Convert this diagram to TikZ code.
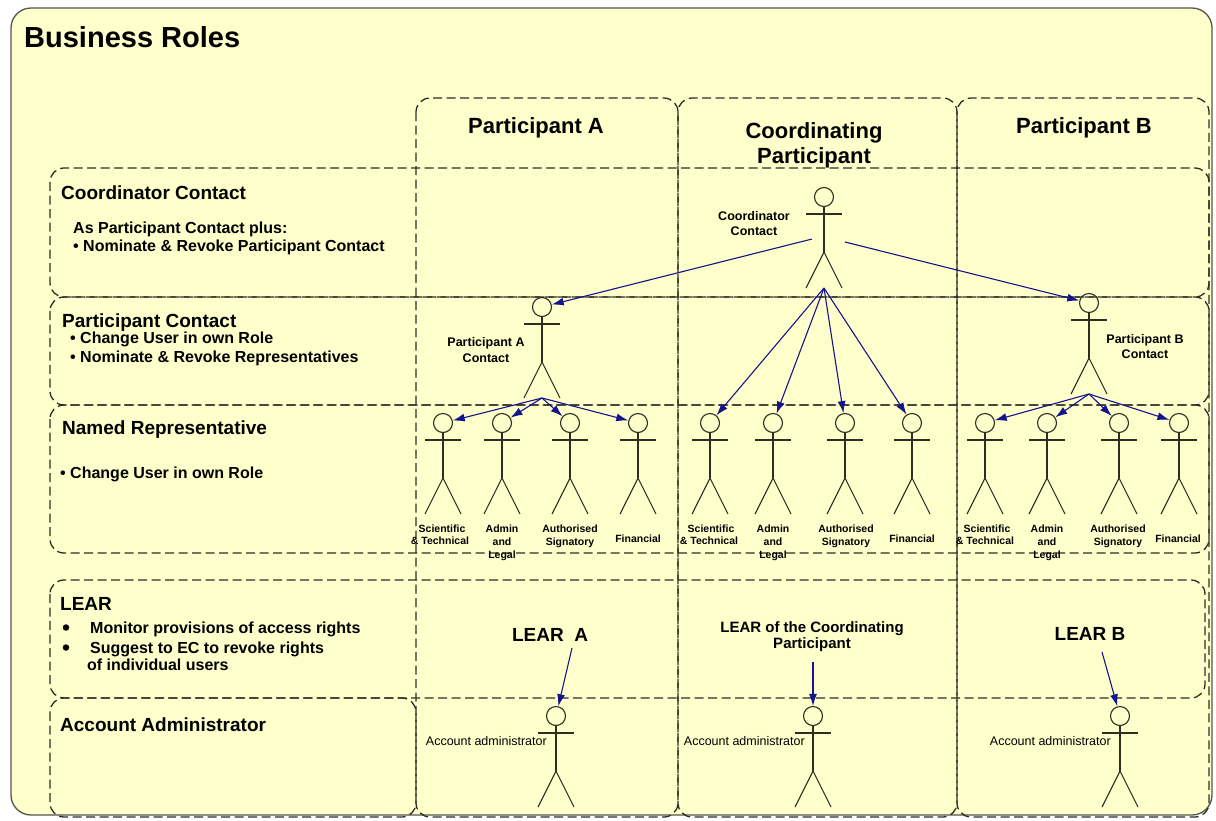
\documentclass[tikz,border=0pt]{standalone}
\usepackage{fontspec}
\setmainfont{Liberation Sans}
\usetikzlibrary{arrows.meta}
\definecolor{bg}{RGB}{255,255,204}
\definecolor{dashc}{RGB}{45,45,40}
\definecolor{figc}{RGB}{45,45,35}
\definecolor{arrc}{RGB}{20,20,140}
\definecolor{outc}{RGB}{85,85,75}
\newcommand{\fsz}[1]{\fontsize{#1}{#1}\selectfont}
\newcommand{\actor}[3]{%
  \node[head] (#1) at (#2,#3) {};
  \draw[fig] (#1.south) -- (#2,{#3+55}) coordinate (#1-hip);
  \draw[fig] ({#2-18},{#3+17}) -- ({#2+18},{#3+17});
  \draw[fig] ({#2-18},{#3+91}) -- (#1-hip) -- ({#2+18},{#3+91});
  \coordinate (#1-feet) at (#2,{#3+91});
}
\tikzset{
  lane/.style={draw=dashc, line width=1.3pt, dash pattern=on 9pt off 4.5pt, rounded corners=14pt},
  fig/.style={draw=figc, line width=1.1pt},
  head/.style={circle, draw=figc, line width=1.1pt, minimum size=19pt, inner sep=0pt},
  link/.style={draw=arrc, line width=1.1pt, -{Latex[length=12pt,width=8pt]}},
  dot/.style={circle, fill=black, minimum size=6.5pt, inner sep=0pt},
  ttl/.style={font=\fsz{29}\bfseries, anchor=base west, inner sep=0pt},
  rowt/.style={font=\fsz{19}\bfseries, anchor=base west, inner sep=0pt},
  txt/.style={font=\fsz{16}\bfseries, anchor=base west, inner sep=0pt},
  colt/.style={font=\fsz{22}\bfseries, anchor=base, inner sep=0pt},
  flab/.style={font=\fsz{12.5}\bfseries, anchor=base, inner sep=0pt},
  rlab/.style={font=\fsz{10.5}\bfseries, anchor=base, inner sep=0pt},
  alab/.style={font=\fsz{12.5}, anchor=base east, inner sep=0pt},
  lear/.style={font=\fsz{19}\bfseries, anchor=base, inner sep=0pt},
  learc/.style={font=\fsz{15}\bfseries, anchor=base, inner sep=0pt},
}
\begin{document}
\begin{tikzpicture}[x=1pt,y=-1pt]
\fill[white] (0,0) rectangle (1216,820);
\useasboundingbox (0,0) rectangle (1216,820);
% outer panel
\draw[draw=outc, line width=1.3pt, fill=bg, rounded corners=20pt] (11,8) rectangle (1212,815);
\node[ttl] (title) at (24,47) {Business Roles};
% columns
\draw[lane] (416,98) rectangle (678,817);
\draw[lane] (678,98) rectangle (957,817);
\draw[lane] (957,98) rectangle (1209,817);
% rows
\draw[lane] (50,168) rectangle (1209,297);
\draw[lane] (50,297) rectangle (1209,405);
\draw[lane] (50,405) rectangle (1209,553);
\draw[lane] (50,580) rectangle (1205,698);
\draw[lane] (50,698) rectangle (416,817);
% column titles
\node[colt] (colA) at (536,133) {Participant A};
\node[colt] (colC1) at (814,138) {Coordinating};
\node[colt] (colC2) at (814,163) {Participant};
\node[colt] (colB) at (1084,133) {Participant B};
% row texts
\node[rowt] (r1) at (61,199) {Coordinator Contact};
\node[txt] (r1a) at (73,233) {As Participant Contact plus:};
\node[txt] (r1b) at (73,251) {• Nominate \& Revoke Participant Contact};
\node[rowt] (r2) at (62,327) {Participant Contact};
\node[txt] (r2a) at (70,343) {• Change User in own Role};
\node[txt] (r2b) at (70,362) {• Nominate \& Revoke Representatives};
\node[rowt] (r3) at (62,434) {Named Representative};
\node[txt] (r3a) at (60,478) {• Change User in own Role};
\node[rowt] (r4) at (60,610) {LEAR};
\node[dot] (r4d1) at (66,627.5) {};
\node[txt] (r4a) at (90,633) {Monitor provisions of access rights};
\node[dot] (r4d2) at (66,647.5) {};
\node[txt] (r4b) at (90,653) {Suggest to EC to revoke rights};
\node[txt] (r4c) at (87,670) {of individual users};
\node[rowt] (r5) at (60,731) {Account Administrator};
% actors
\actor{cc}{824}{197}
\actor{pa}{542}{307}
\actor{pb}{1089}{303}
\actor{a1}{443}{423}
\actor{a2}{502}{423}
\actor{a3}{570}{423}
\actor{a4}{638}{423}
\actor{c1}{710}{423}
\actor{c2}{773}{423}
\actor{c3}{845}{423}
\actor{c4}{912}{423}
\actor{b1}{985}{423}
\actor{b2}{1047}{423}
\actor{b3}{1119}{423}
\actor{b4}{1179}{423}
\actor{ada}{556}{716}
\actor{adc}{813}{716}
\actor{adb}{1120}{716}
% actor labels
\node[flab] (lcc1) at (754,220) {Coordinator};
\node[flab] (lcc2) at (754,235) {Contact};
\node[flab] (lpa1) at (486,346) {Participant A};
\node[flab] (lpa2) at (486,362) {Contact};
\node[flab] (lpb1) at (1145,343) {Participant B};
\node[flab] (lpb2) at (1145,358) {Contact};
% representative labels
\foreach \n/\x/\y/\z in {A/442/502/570, C/711/773/846, B/987/1047/1118}{
  \node[rlab] (sci\n1) at (\x,532) {Scientific};
  \node[rlab] (sci\n2) at (\x-2,544) {\& Technical};
  \node[rlab] (adm\n1) at (\y,532) {Admin};
  \node[rlab] (adm\n2) at (\y,545) {and};
  \node[rlab] (adm\n3) at (\y,558) {Legal};
  \node[rlab] (aut\n1) at (\z,532) {Authorised};
  \node[rlab] (aut\n2) at (\z,545) {Signatory};
}
\node[rlab] (finA) at (638,542) {Financial};
\node[rlab] (finC) at (912,542) {Financial};
\node[rlab] (finB) at (1178,542) {Financial};
% LEAR labels
\node[lear] (learA) at (550,641) {LEAR\ \ A};
\node[learc] (learC1) at (812,632) {LEAR of the Coordinating};
\node[learc] (learC2) at (812,648) {Participant};
\node[lear] (learB) at (1090,640) {LEAR B};
% account administrator labels
\node[alab] (aadA) at (547,745) {Account administrator};
\node[alab] (aadC) at (805,745) {Account administrator};
\node[alab] (aadB) at (1111,745) {Account administrator};
% connectors
\coordinate (ccL) at (812,239);
\coordinate (ccR) at (845,242);
\draw[link] (ccL) -- (pa);
\draw[link] (ccR) -- (pb);
\foreach \t in {c1,c2,c3,c4} \draw[link] (cc-feet) -- (\t);
\foreach \t in {a1,a2,a3,a4} \draw[link] (pa-feet) -- (\t);
\foreach \t in {b1,b2,b3,b4} \draw[link] (pb-feet) -- (\t);
\coordinate (lA) at (572,648);
\coordinate (lC) at (813,662);
\coordinate (lB) at (1102,652);
\draw[link] (lA) -- (ada);
\draw[link] (lC) -- (adc);
\draw[link] (lB) -- (adb);
\end{tikzpicture}
\end{document}
